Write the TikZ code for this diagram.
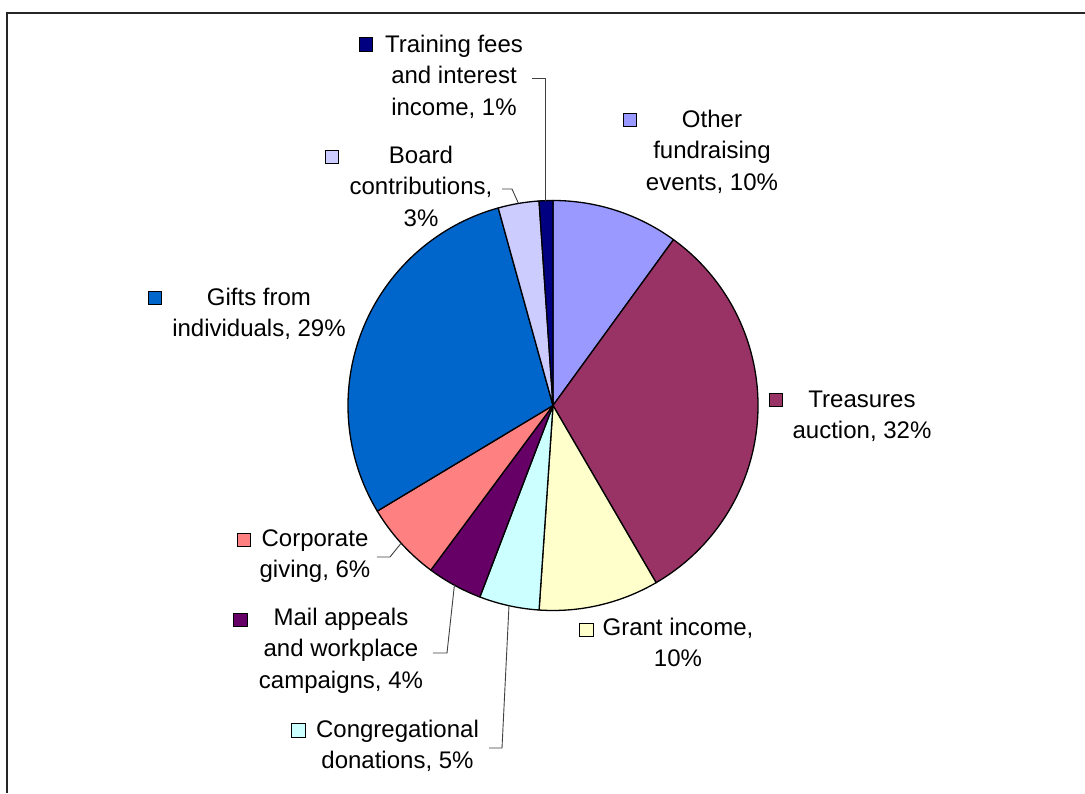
\documentclass[tikz,border=0pt]{standalone}
\usepackage{fontspec}
\setmainfont{Liberation Sans}
\usetikzlibrary{calc}
\definecolor{cOther}{HTML}{9999FF}
\definecolor{cTreas}{HTML}{993366}
\definecolor{cGrant}{HTML}{FFFFCC}
\definecolor{cCong}{HTML}{CCFFFF}
\definecolor{cMail}{HTML}{660066}
\definecolor{cCorp}{HTML}{FF8080}
\definecolor{cGifts}{HTML}{0066CC}
\definecolor{cBoard}{HTML}{CCCCFF}
\definecolor{cTrain}{HTML}{000080}
\tikzset{
  slice/.style={draw=black, line width=1.3pt, line join=round},
  leader/.style={draw=black!75, line width=0.9pt},
  lbl/.style={align=center, inner sep=0pt, anchor=north, font=\fontsize{24}{31.5}\selectfont},
  keybox/.style={draw=black, line width=1.3pt, minimum size=13.5pt, inner sep=0pt},
  frameline/.style={draw=black!85, line width=2pt}
}
\begin{document}
\begin{tikzpicture}[x=1pt,y=1pt]
\useasboundingbox (0,0) rectangle (1085,793);
\fill[white] (0,0) rectangle (1085,793);
% frame (top and left only)
\coordinate (fTL) at (7,780);
\coordinate (fTR) at (1085,780);
\coordinate (fBL) at (7,0);
\draw[frameline] (fTR) -- (fTL) -- (fBL);
% pie
\coordinate (O) at (553,387.5);
\def\R{205}
\filldraw[slice, fill=cOther] (O) -- ([shift={(O)}]90:\R) arc[start angle=90, end angle=54, radius=\R] -- cycle;
\filldraw[slice, fill=cTreas] (O) -- ([shift={(O)}]54:\R) arc[start angle=54, end angle=-59.8, radius=\R] -- cycle;
\filldraw[slice, fill=cGrant] (O) -- ([shift={(O)}]-59.8:\R) arc[start angle=-59.8, end angle=-93.9, radius=\R] -- cycle;
\filldraw[slice, fill=cCong] (O) -- ([shift={(O)}]-93.9:\R) arc[start angle=-93.9, end angle=-110.9, radius=\R] -- cycle;
\filldraw[slice, fill=cMail] (O) -- ([shift={(O)}]-110.9:\R) arc[start angle=-110.9, end angle=-126.6, radius=\R] -- cycle;
\filldraw[slice, fill=cCorp] (O) -- ([shift={(O)}]-126.6:\R) arc[start angle=-126.6, end angle=-149, radius=\R] -- cycle;
\filldraw[slice, fill=cGifts] (O) -- ([shift={(O)}]-149:\R) arc[start angle=-149, end angle=-254.5, radius=\R] -- cycle;
\filldraw[slice, fill=cBoard] (O) -- ([shift={(O)}]-254.5:\R) arc[start angle=-254.5, end angle=-266.1, radius=\R] -- cycle;
\filldraw[slice, fill=cTrain] (O) -- ([shift={(O)}]-266.1:\R) arc[start angle=-266.1, end angle=-270, radius=\R] -- cycle;
% pie edge points for leaders
\coordinate (pTrain) at ([shift={(O)}]-268:\R);
\coordinate (pBoard) at ([shift={(O)}]-260.3:\R);
\coordinate (pCorp) at ([shift={(O)}]-137.8:\R);
\coordinate (pMail) at ([shift={(O)}]-118.75:\R);
\coordinate (pCong) at ([shift={(O)}]-102.4:\R);
% labels
\node[lbl] (lTrain) at (454,763.05) {\strut Training fees\\\strut and interest\\\strut income, 1\%};
\node[keybox, fill=cTrain] (kTrain) at (366,748.5) {};
\node[lbl] (lBoard) at (421,652.05) {\strut Board\\\strut contributions,\\\strut 3\%};
\node[keybox, fill=cBoard] (kBoard) at (332,636) {};
\node[lbl] (lOther) at (712,688.05) {\strut Other\\\strut fundraising\\\strut events, 10\%};
\node[keybox, fill=cOther] (kOther) at (630,673) {};
\node[lbl] (lGifts) at (259,510.05) {\strut Gifts from\\\strut individuals, 29\%};
\node[keybox, fill=cGifts] (kGifts) at (155,495) {};
\node[lbl] (lTreas) at (862,408.05) {\strut Treasures\\\strut auction, 32\%};
\node[keybox, fill=cTreas] (kTreas) at (776,393) {};
\node[lbl] (lGrant) at (678,180.05) {\strut Grant income,\\\strut 10\%};
\node[keybox, fill=cGrant] (kGrant) at (586.5,163) {};
\node[lbl] (lCorp) at (315,269.05) {\strut Corporate\\\strut giving, 6\%};
\node[keybox, fill=cCorp] (kCorp) at (244,253) {};
\node[lbl] (lMail) at (341,190.05) {\strut Mail appeals\\\strut and workplace\\\strut campaigns, 4\%};
\node[keybox, fill=cMail] (kMail) at (240.5,173) {};
\node[lbl] (lCong) at (397.5,78.05) {\strut Congregational\\\strut donations, 5\%};
\node[keybox, fill=cCong] (kCong) at (298.5,62.5) {};
% leader lines
\coordinate (sTrain) at (532,715);
\coordinate (sBoard) at (502,604);
\coordinate (sCorp) at (377,236);
\coordinate (sMail) at (433,140);
\coordinate (sCong) at (489,45);
\draw[leader] (sTrain) -| (pTrain);
\draw[leader] (sBoard) -- ++(10,0) -- (pBoard);
\draw[leader] (sCorp) -- ++(13,0) -- (pCorp);
\draw[leader] (sMail) -- ++(14,0) -- (pMail);
\draw[leader] (sCong) -- ++(13,0) -- (pCong);
\end{tikzpicture}
\end{document}
